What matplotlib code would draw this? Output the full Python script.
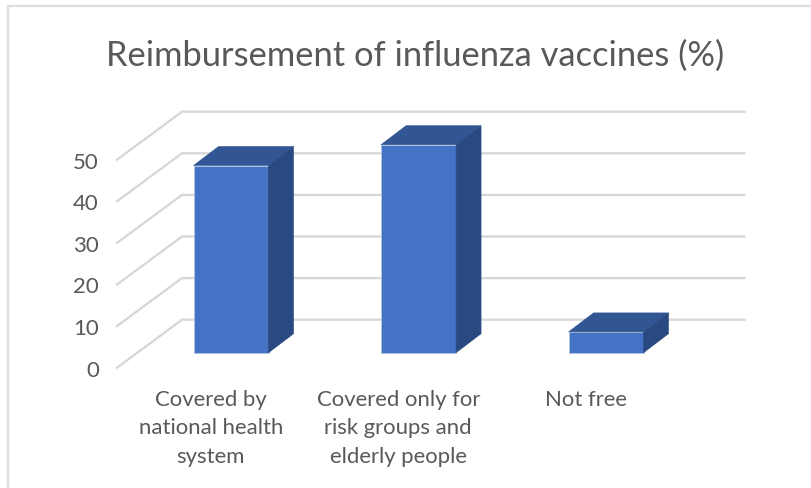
import matplotlib
matplotlib.use("Agg")
import matplotlib.pyplot as plt
from matplotlib.lines import Line2D

categories = ["Covered by\nnational health\nsystem", "Covered only for\nrisk groups and\nelderly people", "Not free"]
values = [45, 50, 5]
y_ticks = [0, 10, 20, 30, 40, 50]
title = "Reimbursement of influenza vaccines (%)"

W, H = 812, 489
plt.rcParams["font.family"] = ["Lato", "DejaVu Sans"]
fig = plt.figure(figsize=(W / 100, H / 100), dpi=100)

# front plane of the 3D box, in pixels
left, right, top, bottom = 117, 679.5, 160.7, 368.7
ax = fig.add_axes([left / W, 1 - bottom / H, (right - left) / W, (bottom - top) / H])
ax.set_xlim(-0.5, 2.5)
ax.set_ylim(0, 50)

px_x = 3 / (right - left)
px_y = 50 / (bottom - top)
wall_dx, wall_dy = 65 * px_x, 48 * px_y      # depth of the floor
inset = 15 / 48                              # bar's front relative to floor depth
bar_dx, bar_dy = 25 * px_x, 19 * px_y        # depth of each bar
bar_w = 75 * px_x
grid_c = "#d6d6d6"
x0, x1 = ax.get_xlim()

for t in y_ticks:
    ax.plot([x0, x0 + wall_dx, x1 + wall_dx], [t, t + wall_dy, t + wall_dy],
            color=grid_c, lw=1.6, clip_on=False, zorder=1, solid_joinstyle="miter")

for i, v in enumerate(values):
    xl = i + inset * wall_dx - bar_w / 2
    xr = xl + bar_w
    b = inset * wall_dy
    ax.bar(xl, v, width=bar_w, bottom=b, align="edge", color="#4472C4",
           edgecolor="#b4c3de", linewidth=0.6, zorder=3, clip_on=False)
    ax.fill([xl, xl + bar_dx, xr + bar_dx, xr], [b + v, b + v + bar_dy, b + v + bar_dy, b + v],
            color="#325694", ec="#325694", lw=0.4, zorder=4, clip_on=False)
    ax.fill([xr, xr + bar_dx, xr + bar_dx, xr], [b, b + bar_dy, b + v + bar_dy, b + v],
            color="#294a80", ec="#294a80", lw=0.4, zorder=4, clip_on=False)

for s in ax.spines.values():
    s.set_visible(False)
ax.patch.set_alpha(0)
ax.set_yticks(y_ticks)
ax.set_xticks(range(len(categories)))
ax.set_xticklabels(categories, linespacing=1.55, va="top")
ax.tick_params(axis="both", length=0, labelsize=15.9, labelcolor="#595959")
ax.tick_params(axis="y", pad=13)
ax.tick_params(axis="x", pad=15)
for lab in ax.get_yticklabels():
    lab.set_fontsize(16)

fig.text(415 / W, 1 - 56 / H, title, ha="center", va="center", fontsize=24.85, color="#595959")

# chart-area frame, cropped by the picture's right and bottom edges
fig.add_artist(Line2D([8.5 / W, 8.5 / W, 1], [0, 1 - 6.5 / H, 1 - 6.5 / H], color="#dedede", lw=1.6))

fig.savefig("out.png", dpi=100)
